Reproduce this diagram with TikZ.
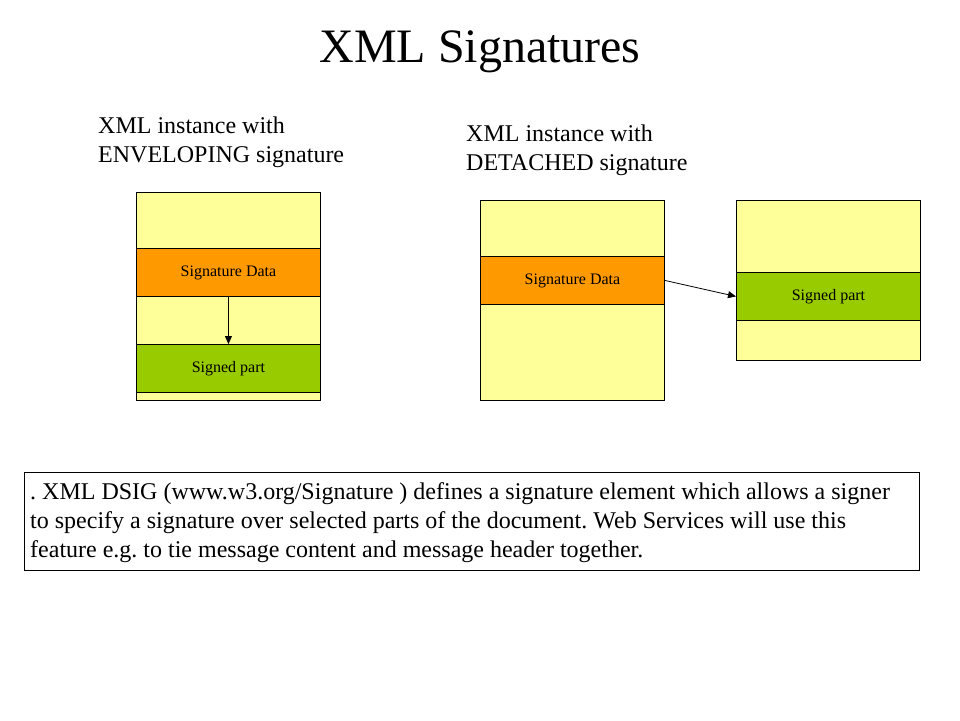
\documentclass[tikz,border=0pt]{standalone}
\usepackage{fontspec}
\setmainfont{Liberation Serif}
\usetikzlibrary{arrows.meta}
\frenchspacing
\definecolor{lyel}{RGB}{255,255,153}
\definecolor{orng}{RGB}{255,153,0}
\definecolor{grn}{RGB}{153,204,0}
\tikzset{
  band/.style={draw=black, line width=0.9pt, inner sep=0pt, anchor=north west, font=\fontsize{16}{18}\selectfont},
  hdr/.style={anchor=base west, inner sep=0pt, align=left, font=\fontsize{24}{29}\selectfont},
  conn/.style={-{Triangle[length=8pt,width=7pt]}, line width=0.8pt}
}
\begin{document}
\begin{tikzpicture}[x=1pt,y=-1pt]
\useasboundingbox (0,0) rectangle (960,720);
\fill[white] (0,0) rectangle (960,720);
\node[anchor=base, inner sep=0pt, font=\fontsize{48}{54}\selectfont] (title) at (480,62) {XML Signatures};
\node[hdr] (h1) at (98,162) {XML instance with\\ENVELOPING signature};
\node[hdr] (h2) at (466,170) {XML instance with\\DETACHED signature};
% left document
\node[band, fill=lyel, minimum width=184pt, minimum height=208pt] (ldoc) at (136,192) {};
\node[band, fill=orng, minimum width=184pt, minimum height=48pt] (lsig) at (136,248) {Signature Data};
\node[band, fill=grn, minimum width=184pt, minimum height=48pt] (lsp) at (136,344) {Signed part};
\draw[conn] (lsig.south) -- (lsp.north);
% middle document
\node[band, fill=lyel, minimum width=184pt, minimum height=200pt] (mdoc) at (480,200) {};
\node[band, fill=orng, minimum width=184pt, minimum height=48pt] (msig) at (480,256) {Signature Data};
% right document
\node[band, fill=lyel, minimum width=184pt, minimum height=160pt] (rdoc) at (736,200) {};
\node[band, fill=grn, minimum width=184pt, minimum height=48pt] (rsp) at (736,272) {Signed part};
\draw[conn] (msig.east) -- (rsp.west);
% text box
\node[draw=black, line width=0.8pt, anchor=north west, minimum width=895pt, minimum height=98pt, inner sep=0pt] (tbox) at (24,472) {};
\node[hdr] (txt) at (30,557) {. XML DSIG (www.w3.org/Signature ) defines a signature element which allows a signer\\to specify a signature over selected parts of the document. Web Services will use this\\feature e.g. to tie message content and message header together.};
\end{tikzpicture}
\end{document}
